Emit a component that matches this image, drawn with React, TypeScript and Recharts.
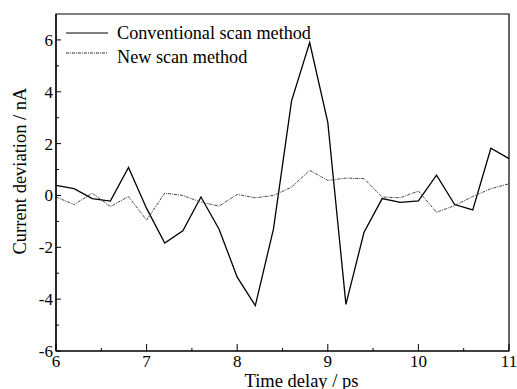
import React from "react"
import { Line, LineChart, ReferenceArea, XAxis, YAxis } from "recharts"

const delays = [6, 6.2, 6.4, 6.6, 6.8, 7, 7.2, 7.4, 7.6, 7.8, 8, 8.2, 8.4, 8.6, 8.8, 9, 9.2, 9.4, 9.6, 9.8, 10, 10.2, 10.4, 10.6, 10.8, 11]
const conventional = [0.39, 0.26, -0.12, -0.22, 1.08, -0.5, -1.84, -1.36, -0.06, -1.3, -3.15, -4.25, -1.3, 3.65, 5.9, 2.82, -4.2, -1.42, -0.12, -0.27, -0.21, 0.78, -0.35, -0.56, 1.82, 1.42]
const newScan = [-0.06, -0.35, 0.09, -0.43, -0.04, -0.95, 0.09, 0.0, -0.26, -0.41, 0.04, -0.09, 0.0, 0.32, 0.97, 0.58, 0.67, 0.65, -0.06, -0.09, 0.17, -0.65, -0.39, -0.04, 0.26, 0.45]

const xTicks = [6, 6.5, 7, 7.5, 8, 8.5, 9, 9.5, 10, 10.5, 11]
const yTicks = [-6, -5, -4, -3, -2, -1, 0, 1, 2, 3, 4, 5, 6]

const data = delays.map((t, i) => ({ t, conventional: conventional[i], newScan: newScan[i] }))

const font = "'Liberation Serif', 'Times New Roman', serif"

const XTick = (props: any) => {
  const { x, y, payload } = props
  const major = Number.isInteger(payload.value)
  return (
    <g>
      <line x1={x} x2={x} y1={y} y2={y - (major ? 7 : 3)} stroke="#000" strokeWidth={1} />
      {major && (
        <text x={x} y={y + 16} textAnchor="middle" fontFamily={font} fontSize={17} fill="#000">
          {payload.value}
        </text>
      )}
    </g>
  )
}

const YTick = (props: any) => {
  const { x, y, payload } = props
  const major = payload.value % 2 === 0
  return (
    <g>
      <line x1={x} x2={x + (major ? 5 : 3)} y1={y} y2={y} stroke="#000" strokeWidth={1} />
      {major && (
        <text x={x - 3} y={y + 6} textAnchor="end" fontFamily={font} fontSize={17} fill="#000">
          {payload.value}
        </text>
      )}
    </g>
  )
}

const XLabel = (props: any) => {
  const { viewBox } = props
  return (
    <text x={viewBox.x + viewBox.width / 2 + 19} y={viewBox.y + 36} textAnchor="middle" fontFamily={font} fontSize={18.5} fill="#000">
      Time delay / ps
    </text>
  )
}

const LegendBox = () => (
  <svg width={280} height={50} style={{ position: "absolute", left: 66, top: 21 }}>
    <line x1={0} x2={42} y1={12} y2={12} stroke="#000" strokeWidth={1.2} />
    <text x={51} y={18} fontFamily={font} fontSize={18.2} fill="#000">Conventional scan method</text>
    <line x1={0} x2={42} y1={32} y2={32} stroke="#333" strokeWidth={1} strokeDasharray="3 1 1 1" />
    <text x={51} y={42} fontFamily={font} fontSize={18.2} fill="#000">New scan method</text>
  </svg>
)

export default function App() {
  return (
    <div style={{ position: "absolute", left: 0, top: 0, width: 517, height: 389, background: "#fff", overflow: "hidden" }}>
      <LineChart width={517} height={389} data={data} margin={{ top: 14, right: 8, bottom: 0, left: 0 }}>
        <XAxis
          dataKey="t"
          type="number"
          domain={[6, 11]}
          ticks={xTicks}
          tick={<XTick />}
          tickSize={0}
          tickMargin={0}
          tickLine={false}
          axisLine={{ stroke: "#000", strokeWidth: 1.2 }}
          height={38}
          label={<XLabel />}
        />
        <YAxis
          type="number"
          domain={[-6, 7]}
          ticks={yTicks}
          tick={<YTick />}
          tickSize={0}
          tickMargin={0}
          tickLine={false}
          axisLine={{ stroke: "#000", strokeWidth: 1.2 }}
          width={56}
          allowDataOverflow
          label={{ value: "Current deviation / nA", angle: -90, position: "insideLeft", dx: 14, dy: 72, fontFamily: font, fontSize: 18.5, fill: "#000" }}
        />
        <ReferenceArea x1={6} x2={11} y1={-6} y2={7} fill="none" stroke="#000" strokeWidth={1.2} ifOverflow="visible" />
        <Line dataKey="conventional" stroke="#000" strokeWidth={1.3} dot={false} isAnimationActive={false} />
        <Line dataKey="newScan" stroke="#444" strokeWidth={1} strokeDasharray="3 1 1 1" dot={false} isAnimationActive={false} />
      </LineChart>
      <LegendBox />
    </div>
  )
}
